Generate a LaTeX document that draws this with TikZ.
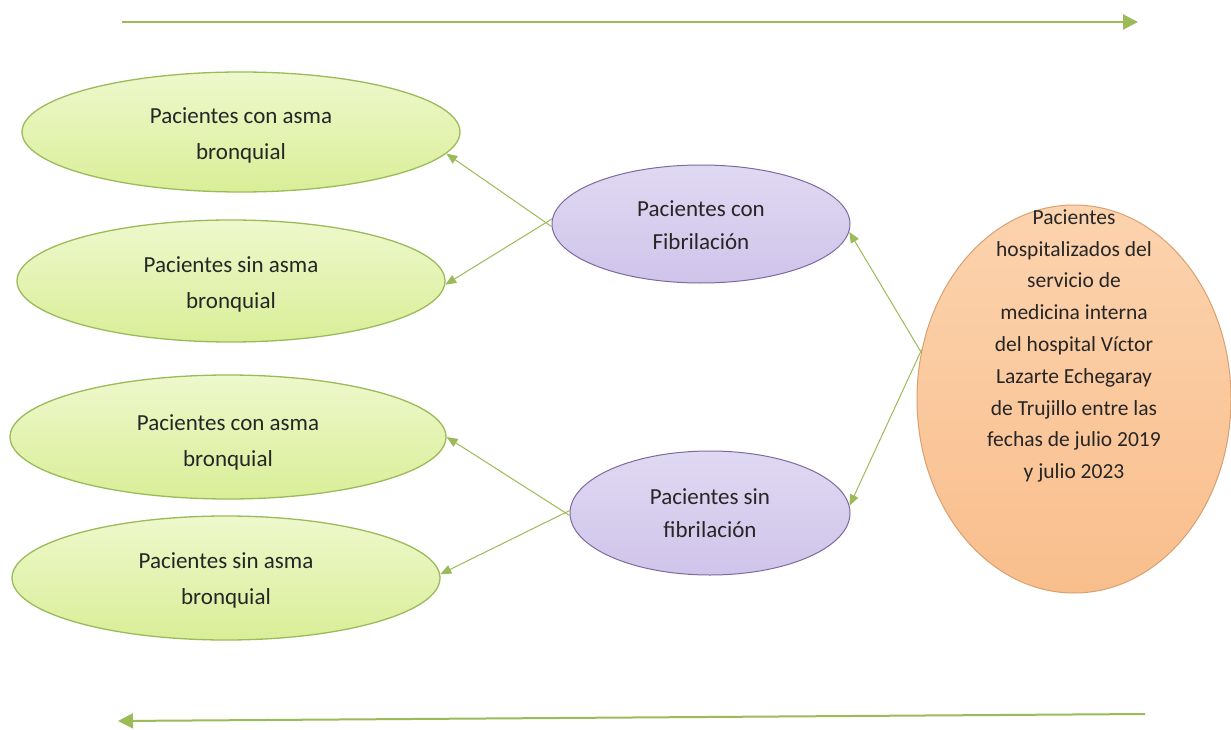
\documentclass[tikz,border=0pt]{standalone}
\usepackage{fontspec}
\setmainfont{Carlito}
\usetikzlibrary{shapes.geometric,arrows.meta}
\definecolor{gtop}{HTML}{EEF8CC}
\definecolor{gbot}{HTML}{DAEE98}
\definecolor{gline}{HTML}{9BBB59}
\definecolor{ptop}{HTML}{E0D9F2}
\definecolor{pbot}{HTML}{CFC4EA}
\definecolor{pline}{HTML}{7E6A9E}
\definecolor{otop}{HTML}{FCD3AE}
\definecolor{obot}{HTML}{F9BE8C}
\definecolor{oline}{HTML}{D9A070}
\definecolor{aline}{HTML}{9BBB59}
\tikzset{
  greenell/.style={ellipse, draw=gline, line width=1.3pt, top color=gtop, bottom color=gbot, inner sep=0pt},
  purpell/.style={ellipse, draw=pline, line width=1.0pt, top color=ptop, bottom color=pbot, inner sep=0pt},
  orangeell/.style={ellipse, draw=oline, line width=1.0pt, top color=otop, bottom color=obot, inner sep=0pt},
  gtext/.style={align=center, font=\fontsize{23}{36}\selectfont, text=black!85},
  ptext/.style={align=center, font=\fontsize{23}{33}\selectfont, text=black!85},
  otext/.style={align=center, font=\fontsize{21.5}{31.8}\selectfont, text=black!85},
  conn/.style={draw=aline, line width=1pt, -{Triangle[length=11pt,width=9pt]}},
  bigarrow/.style={draw=aline, line width=2pt, -{Triangle[length=15pt,width=15pt]}},
}
\begin{document}
\begin{tikzpicture}[x=1pt,y=-1pt]
\useasboundingbox (0,0) rectangle (1231,730);
\node[greenell, minimum width=438, minimum height=120,
  label={[gtext, yshift=-3pt]center:Pacientes con asma\\bronquial}] (g1) at (241,132) {};
\node[greenell, minimum width=428, minimum height=122,
  label={[gtext, yshift=-3pt]center:Pacientes sin asma\\bronquial}] (g2) at (231,281) {};
\node[greenell, minimum width=436, minimum height=124,
  label={[gtext, yshift=-5pt]center:Pacientes con asma\\bronquial}] (g3) at (228,437) {};
\node[greenell, minimum width=428, minimum height=124,
  label={[gtext, yshift=-2pt]center:Pacientes sin asma\\bronquial}] (g4) at (226,578) {};
\node[purpell, minimum width=298, minimum height=118,
  label={[ptext, yshift=-1pt]center:Pacientes con\\Fibrilación}] (p1) at (701,224) {};
\node[purpell, minimum width=280, minimum height=124,
  label={[ptext]center:Pacientes sin\\fibrilación}] (p2) at (710,513) {};
\node[orangeell, minimum width=314, minimum height=388,
  label={[otext, yshift=53pt]center:Pacientes\\hospitalizados del\\servicio de\\medicina interna\\del hospital Víctor\\Lazarte Echegaray\\de Trujillo entre las\\fechas de julio 2019\\y julio 2023}] (o) at (1074,399) {};
\draw[conn] (p1.181) -- (g1.-6.5);
\draw[conn] (p1.178) -- (g2.-1);
\draw[conn] (o.163) -- (p1.-3);
\draw[conn] (o.162) -- (p2.3);
\draw[conn] (p2.181) -- (g3.east);
\draw[conn] (p2.179) -- (g4.1.6);
\coordinate (ta) at (122,22);
\coordinate (tb) at (1138,22);
\coordinate (ba) at (1145,714);
\coordinate (bb) at (118,721);
\draw[bigarrow] (ta) -- (tb);
\draw[bigarrow] (ba) -- (bb);
\end{tikzpicture}
\end{document}
